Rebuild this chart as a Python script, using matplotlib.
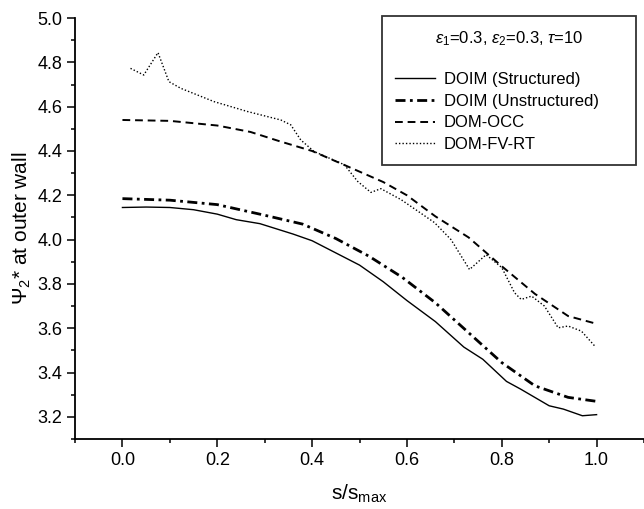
import matplotlib
matplotlib.use("Agg")
import matplotlib.pyplot as plt
from matplotlib.ticker import MultipleLocator

plt.rcParams['font.family'] = ['Liberation Sans', 'DejaVu Sans']
plt.rcParams['mathtext.fontset'] = 'custom'
plt.rcParams['mathtext.rm'] = 'Liberation Sans'
plt.rcParams['mathtext.it'] = 'Liberation Sans:italic'

# DOIM (Structured)
s_struct = [0.0, 0.05, 0.1, 0.15, 0.2, 0.24, 0.29, 0.36, 0.4, 0.45, 0.5, 0.55,
            0.6, 0.66, 0.72, 0.76, 0.81, 0.84, 0.9, 0.93, 0.97, 1.0]
v_struct = [4.145, 4.147, 4.145, 4.135, 4.115, 4.09, 4.072, 4.025, 3.995, 3.94,
            3.885, 3.81, 3.725, 3.63, 3.515, 3.46, 3.36, 3.325, 3.25, 3.235,
            3.205, 3.21]

# DOIM (Unstructured)
s_unstr = [0.0, 0.1, 0.2, 0.3, 0.38, 0.45, 0.52, 0.59, 0.66, 0.73, 0.8, 0.87,
           0.94, 1.0]
v_unstr = [4.185, 4.178, 4.158, 4.11, 4.07, 4.005, 3.925, 3.83, 3.715, 3.58,
           3.445, 3.34, 3.288, 3.27]

# DOM-OCC
s_occ = [0.0, 0.1, 0.2, 0.27, 0.33, 0.4, 0.47, 0.55, 0.6, 0.66, 0.73, 0.8,
         0.87, 0.94, 1.0]
v_occ = [4.54, 4.536, 4.515, 4.486, 4.445, 4.4, 4.335, 4.26, 4.2, 4.105, 4.01,
         3.88, 3.755, 3.655, 3.62]

# DOM-FV-RT
s_fvrt = [0.017, 0.045, 0.075, 0.098, 0.123, 0.193, 0.264, 0.334, 0.355, 0.376,
          0.404, 0.468, 0.496, 0.524, 0.545, 0.588, 0.658, 0.693, 0.732, 0.767,
          0.8, 0.827, 0.841, 0.863, 0.89, 0.919, 0.94, 0.968, 0.996]
v_fvrt = [4.773, 4.743, 4.844, 4.713, 4.683, 4.623, 4.578, 4.54, 4.518, 4.45,
          4.398, 4.338, 4.263, 4.213, 4.23, 4.18, 4.077, 4.0, 3.865, 3.932,
          3.874, 3.76, 3.73, 3.745, 3.7, 3.602, 3.61, 3.587, 3.52]

labels = ['DOIM (Structured)', 'DOIM (Unstructured)', 'DOM-OCC', 'DOM-FV-RT']

fig = plt.figure(figsize=(6.44, 5.09), dpi=100)
ax = fig.add_axes([0.1165, 0.1375, 0.8835, 0.827])

ax.plot(s_struct, v_struct, color='black', lw=1.0, ls='-', label=labels[0])
ax.plot(s_unstr, v_unstr, color='black', lw=2.0, ls=(0, (3.6, 1.6, 1.0, 1.6)), label=labels[1])
ax.plot(s_occ, v_occ, color='black', lw=1.4, ls=(0, (4, 2.5)), label=labels[2])
ax.plot(s_fvrt, v_fvrt, color='black', lw=1.0, ls=(0, (1, 1.5)), label=labels[3])

ax.set_xlim(-0.1, 1.1)
ax.set_ylim(3.1, 5.0)
ax.xaxis.set_major_locator(MultipleLocator(0.2))
ax.xaxis.set_minor_locator(MultipleLocator(0.1))
ax.yaxis.set_major_locator(MultipleLocator(0.2))
ax.yaxis.set_minor_locator(MultipleLocator(0.1))
ax.set_xticks([0.0, 0.2, 0.4, 0.6, 0.8, 1.0])
ax.tick_params(which='major', direction='out', length=6, width=1.1, labelsize=13, pad=3)
ax.tick_params(which='minor', direction='out', length=3, width=1.1)

for side in ['top', 'right']:
    ax.spines[side].set_visible(False)
for side in ['left', 'bottom']:
    ax.spines[side].set_linewidth(1.3)

ax.set_xlabel(r's/s$_{\mathrm{max}}$', fontsize=15, labelpad=10)
ax.set_ylabel(r'$\Psi_{2}$* at outer wall', fontsize=15, labelpad=3)

leg = ax.legend(title=r'$\varepsilon_1$=0.3, $\varepsilon_2$=0.3, $\tau$=10' + '\n',
                loc='upper left', bbox_to_anchor=(0.5395, 0.658, 0.4465, 0.347),
                mode='expand', fontsize=12, title_fontsize=12,
                frameon=True, fancybox=False, edgecolor='black',
                handlelength=2.4, handletextpad=0.5, labelspacing=0.4,
                borderpad=0.8, borderaxespad=0)
leg.get_frame().set_linewidth(1.3)

fig.savefig('out.png', dpi=100)
